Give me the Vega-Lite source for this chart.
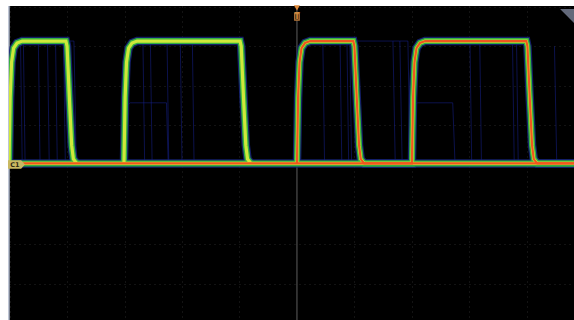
{
  "$schema": "https://vega.github.io/schema/vega-lite/v6.json",
  "width": 565,
  "height": 314,
  "autosize": {"type": "none"},
  "padding": {"left": 9, "top": 6, "right": 0, "bottom": 0},
  "background": "#ffffff",
  "config": {
    "view": {"fill": "#000000", "stroke": null},
    "axis": {"labels": false, "ticks": false, "domain": false, "title": null, "grid": true, "gridColor": "#262626", "gridDash": [1, 4], "gridWidth": 1, "gridOpacity": 1}
  },
  "datasets": {
    "main": [
      {"s": "B", "k": "hot", "t": -5.01, "v": 0.04}, {"s": "B", "k": "hot", "t": 4.82, "v": 0.04},
      {"s": "L1", "k": "warm", "t": -5.01, "v": 0.04}, {"s": "L1", "k": "warm", "t": -4.99, "v": 1.7}, {"s": "L1", "k": "warm", "t": -4.965, "v": 2.6}, {"s": "L1", "k": "warm", "t": -4.93, "v": 2.95}, {"s": "L1", "k": "warm", "t": -4.87, "v": 3.08}, {"s": "L1", "k": "warm", "t": -4.78, "v": 3.13},
      {"s": "L1", "k": "warm", "t": -4.02, "v": 3.13}, {"s": "L1", "k": "warm", "t": -4.0, "v": 3.0}, {"s": "L1", "k": "warm", "t": -3.96, "v": 1.7}, {"s": "L1", "k": "warm", "t": -3.92, "v": 0.5}, {"s": "L1", "k": "warm", "t": -3.89, "v": 0.15}, {"s": "L1", "k": "warm", "t": -3.83, "v": 0.04},
      {"s": "L2", "k": "warm", "t": -3.01, "v": 0.04}, {"s": "L2", "k": "warm", "t": -2.99, "v": 1.7}, {"s": "L2", "k": "warm", "t": -2.965, "v": 2.6}, {"s": "L2", "k": "warm", "t": -2.93, "v": 2.95}, {"s": "L2", "k": "warm", "t": -2.87, "v": 3.08}, {"s": "L2", "k": "warm", "t": -2.78, "v": 3.13},
      {"s": "L2", "k": "warm", "t": -0.99, "v": 3.13}, {"s": "L2", "k": "warm", "t": -0.97, "v": 3.0}, {"s": "L2", "k": "warm", "t": -0.93, "v": 1.7}, {"s": "L2", "k": "warm", "t": -0.89, "v": 0.5}, {"s": "L2", "k": "warm", "t": -0.86, "v": 0.15}, {"s": "L2", "k": "warm", "t": -0.8, "v": 0.04},
      {"s": "R", "k": "hot", "t": 0.0, "v": 0.04}, {"s": "R", "k": "hot", "t": 0.02, "v": 1.7}, {"s": "R", "k": "hot", "t": 0.045, "v": 2.6}, {"s": "R", "k": "hot", "t": 0.08, "v": 2.95}, {"s": "R", "k": "hot", "t": 0.14, "v": 3.08}, {"s": "R", "k": "hot", "t": 0.23, "v": 3.13},
      {"s": "R", "k": "hot", "t": 0.98, "v": 3.13}, {"s": "R", "k": "hot", "t": 1.0, "v": 3.0}, {"s": "R", "k": "hot", "t": 1.04, "v": 1.7}, {"s": "R", "k": "hot", "t": 1.08, "v": 0.5}, {"s": "R", "k": "hot", "t": 1.11, "v": 0.15}, {"s": "R", "k": "hot", "t": 1.17, "v": 0.04},
      {"s": "R", "k": "hot", "t": 2.0, "v": 0.04}, {"s": "R", "k": "hot", "t": 2.02, "v": 1.7}, {"s": "R", "k": "hot", "t": 2.045, "v": 2.6}, {"s": "R", "k": "hot", "t": 2.08, "v": 2.95}, {"s": "R", "k": "hot", "t": 2.14, "v": 3.08}, {"s": "R", "k": "hot", "t": 2.23, "v": 3.13},
      {"s": "R", "k": "hot", "t": 3.99, "v": 3.13}, {"s": "R", "k": "hot", "t": 4.01, "v": 3.0}, {"s": "R", "k": "hot", "t": 4.05, "v": 1.7}, {"s": "R", "k": "hot", "t": 4.09, "v": 0.5}, {"s": "R", "k": "hot", "t": 4.12, "v": 0.15}, {"s": "R", "k": "hot", "t": 4.18, "v": 0.04}, {"s": "R", "k": "hot", "t": 4.82, "v": 0.04}
    ],
    "faint": [
      {"id": "f1", "t": -4.81, "v": 3.13}, {"id": "f1", "t": -4.78, "v": 0.04},
      {"id": "f2", "t": -4.76, "v": 3.13}, {"id": "f2", "t": -4.73, "v": 0.04},
      {"id": "f3", "t": -4.5, "v": 3.13}, {"id": "f3", "t": -4.47, "v": 0.04},
      {"id": "f4", "t": -4.34, "v": 3.13}, {"id": "f4", "t": -4.31, "v": 0.04},
      {"id": "f5", "t": -4.2, "v": 3.13}, {"id": "f5", "t": -4.17, "v": 0.04},
      {"id": "f6", "t": -4.06, "v": 3.13}, {"id": "f6", "t": -4.03, "v": 0.04},
      {"id": "f7", "t": -4.0, "v": 3.13}, {"id": "f7", "t": -3.88, "v": 3.13}, {"id": "f7", "t": -3.84, "v": 0.04},
      {"id": "f8", "t": -2.68, "v": 3.13}, {"id": "f8", "t": -2.65, "v": 0.04},
      {"id": "f9", "t": -2.55, "v": 3.13}, {"id": "f9", "t": -2.52, "v": 0.04},
      {"id": "f10", "t": -2.26, "v": 3.13}, {"id": "f10", "t": -2.23, "v": 0.04},
      {"id": "f11", "t": -2.03, "v": 3.13}, {"id": "f11", "t": -2.0, "v": 0.04},
      {"id": "f12", "t": -1.82, "v": 3.13}, {"id": "f12", "t": -1.79, "v": 0.04},
      {"id": "f13", "t": -2.99, "v": 0.04}, {"id": "f13", "t": -2.96, "v": 1.5}, {"id": "f13", "t": -2.9, "v": 1.57}, {"id": "f13", "t": -2.27, "v": 1.57}, {"id": "f13", "t": -2.24, "v": 0.04},
      {"id": "f14", "t": 0.45, "v": 3.13}, {"id": "f14", "t": 0.48, "v": 0.04},
      {"id": "f15", "t": 0.75, "v": 3.13}, {"id": "f15", "t": 0.78, "v": 0.04},
      {"id": "f16", "t": 0.87, "v": 3.13}, {"id": "f16", "t": 0.9, "v": 0.04},
      {"id": "f17", "t": 0.92, "v": 3.13}, {"id": "f17", "t": 0.95, "v": 0.04},
      {"id": "f18", "t": 0.99, "v": 3.13}, {"id": "f18", "t": 1.67, "v": 3.13}, {"id": "f18", "t": 1.71, "v": 0.04},
      {"id": "f19", "t": 1.67, "v": 3.13}, {"id": "f19", "t": 1.79, "v": 3.13}, {"id": "f19", "t": 1.83, "v": 0.04},
      {"id": "f20", "t": 1.79, "v": 3.13}, {"id": "f20", "t": 1.93, "v": 3.13}, {"id": "f20", "t": 1.97, "v": 0.04},
      {"id": "f21", "t": 2.0, "v": 0.04}, {"id": "f21", "t": 2.03, "v": 1.5}, {"id": "f21", "t": 2.1, "v": 1.57}, {"id": "f21", "t": 2.71, "v": 1.57}, {"id": "f21", "t": 2.75, "v": 0.04},
      {"id": "f22", "t": 3.01, "v": 3.13}, {"id": "f22", "t": 3.04, "v": 0.04},
      {"id": "f23", "t": 3.18, "v": 3.13}, {"id": "f23", "t": 3.21, "v": 0.04},
      {"id": "f24", "t": 3.75, "v": 3.13}, {"id": "f24", "t": 3.78, "v": 0.04},
      {"id": "f25", "t": 3.82, "v": 3.13}, {"id": "f25", "t": 3.85, "v": 0.04},
      {"id": "f26", "t": 4.48, "v": 3.0}, {"id": "f26", "t": 4.52, "v": 0.04}
    ]
  },
  "layer": [
    {
      "data": {"values": [{"t": 0}]},
      "mark": {"type": "rule", "color": "#5e5e5e", "strokeWidth": 1},
      "encoding": {"x": {"field": "t", "type": "quantitative"}}
    },
    {
      "data": {"values": [{"v": 0}]},
      "mark": {"type": "rule", "color": "#6a6a6a", "strokeWidth": 1},
      "encoding": {"y": {"field": "v", "type": "quantitative"}}
    },
    {
      "data": {"values": [{"t": -5.01}]},
      "mark": {"type": "rule", "color": "#a9b2c6", "strokeWidth": 1.5},
      "encoding": {"x": {"field": "t", "type": "quantitative"}}
    },
    {
      "encoding": {
        "x": {"field": "t", "type": "quantitative", "scale": {"domain": [-5.01, 4.82], "nice": false, "zero": false}, "axis": {"values": [-5, -4, -3, -2, -1, 1, 2, 3, 4]}},
        "y": {"field": "v", "type": "quantitative", "scale": {"domain": [-3.914, 4.015], "nice": false, "zero": false}, "axis": {"values": [-3, -2, -1, 1, 2, 3, 4]}}
      },
      "layer": [
        {
          "data": {"name": "faint"},
          "mark": {"type": "line", "color": "#16208a", "strokeWidth": 1, "opacity": 0.55, "clip": true},
          "encoding": {"detail": {"field": "id"}, "order": {"field": "t"}}
        },
        {
          "data": {"name": "main"},
          "mark": {"type": "line", "color": "#16247a", "strokeWidth": 8.5, "opacity": 0.85, "clip": true},
          "encoding": {"detail": {"field": "s"}}
        },
        {
          "data": {"name": "main"},
          "mark": {"type": "line", "color": "#34b040", "strokeWidth": 6, "clip": true},
          "encoding": {"detail": {"field": "s"}}
        },
        {
          "data": {"name": "main"},
          "mark": {"type": "line", "color": "#cfe83a", "strokeWidth": 3.2, "clip": true},
          "encoding": {"detail": {"field": "s"}}
        },
        {
          "data": {"name": "main"},
          "transform": [{"filter": "datum.k === 'hot'"}],
          "mark": {"type": "line", "color": "#f0561f", "strokeWidth": 2.2, "clip": true},
          "encoding": {"detail": {"field": "s"}}
        },
        {
          "data": {"values": [{"t": -4.88, "v": 0.01, "label": "C1"}]},
          "mark": {"type": "point", "shape": "M -1 -0.5 L 0.55 -0.5 L 1 0 L 0.55 0.5 L -1 0.5 Z", "size": 289, "filled": true, "color": "#c9b862", "opacity": 1}
        },
        {
          "data": {"values": [{"t": -4.88, "v": 0.01, "label": "C1"}]},
          "mark": {"type": "text", "font": "DejaVu Sans", "fontSize": 6.5, "fontWeight": "bold", "color": "#2e2a12", "dx": -1.5, "dy": 0.5},
          "encoding": {"text": {"field": "label"}}
        },
        {
          "data": {"values": [{"t": 0, "v": 3.97}]},
          "mark": {"type": "point", "shape": "triangle-down", "size": 36, "filled": true, "color": "#e08a3a", "opacity": 1}
        },
        {
          "data": {"values": [{"t": 0, "v": 3.74, "label": "T"}]},
          "mark": {"type": "point", "shape": "M -0.35 -0.5 L 0.35 -0.5 L 0.35 0.5 L -0.35 0.5 Z", "size": 169, "filled": true, "color": "#3a2410", "stroke": "#b8783a", "strokeWidth": 1.2, "opacity": 1}
        },
        {
          "data": {"values": [{"t": 0, "v": 3.74, "label": "T"}]},
          "mark": {"type": "text", "font": "DejaVu Sans", "fontSize": 8, "fontWeight": "bold", "color": "#d08a40", "dy": 0.5},
          "encoding": {"text": {"field": "label"}}
        },
        {
          "data": {"values": [{"t": 4.7, "v": 3.76}]},
          "mark": {"type": "point", "shape": "M -1 -1 L 1 -1 L 1 1 Z", "size": 196, "filled": true, "color": "#7c8398", "opacity": 0.8}
        }
      ]
    }
  ]
}
